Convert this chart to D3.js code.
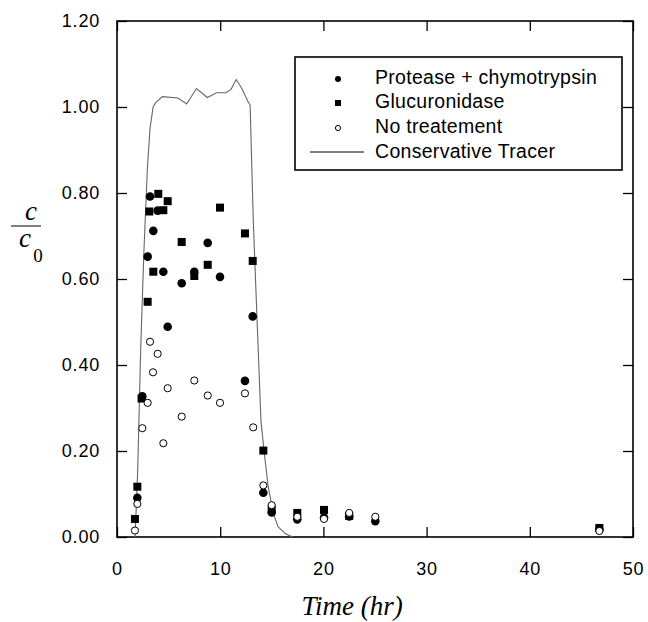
<!DOCTYPE html>
<html>
<head>
<meta charset="utf-8">
<script src="https://cdn.jsdelivr.net/npm/d3@7"></script>
<style>
    body { margin: 0; background: #fff; }
    .tick text { font-family: "Liberation Sans", Arial, sans-serif; font-size: 18px; letter-spacing: 0.8px; fill: #000; }
    .legend text { font-family: "Liberation Sans", Arial, sans-serif; font-size: 19.5px; letter-spacing: 0.3px; }
</style>
</head>
<body>
<div id="canvas"></div>
<script>
// Protease + chymotrypsin (filled circles)
const proteaseTime = [1.97, 2.45, 2.97, 3.2, 3.52, 3.94, 4.49, 4.91, 6.27, 7.49, 8.79, 9.98, 12.4, 13.15, 14.18, 14.99, 17.47, 20.06, 22.5, 25.03, 46.74];
const proteaseValue = [0.091, 0.327, 0.652, 0.792, 0.712, 0.759, 0.617, 0.489, 0.590, 0.617, 0.684, 0.605, 0.363, 0.513, 0.103, 0.057, 0.041, 0.045, 0.048, 0.037, 0.018];

// Glucuronidase (filled squares)
const glucTime = [1.74, 1.97, 2.38, 2.97, 3.13, 3.52, 4.0, 4.49, 4.91, 6.27, 7.49, 8.79, 9.98, 12.4, 13.15, 14.18, 14.99, 17.47, 20.06, 22.5, 46.74];
const glucValue = [0.042, 0.117, 0.322, 0.547, 0.757, 0.617, 0.798, 0.760, 0.781, 0.686, 0.607, 0.633, 0.766, 0.706, 0.642, 0.201, 0.065, 0.056, 0.063, 0.049, 0.021];

// No treatement (open circles)
const noTreatTime = [1.74, 1.97, 2.45, 2.97, 3.2, 3.49, 3.94, 4.49, 4.91, 6.27, 7.49, 8.79, 9.98, 12.4, 13.2, 14.18, 14.99, 17.47, 20.06, 22.5, 25.03, 46.74];
const noTreatValue = [0.015, 0.077, 0.253, 0.312, 0.454, 0.383, 0.426, 0.218, 0.346, 0.280, 0.364, 0.329, 0.312, 0.334, 0.255, 0.120, 0.074, 0.047, 0.042, 0.056, 0.047, 0.014];

// Conservative tracer (line)
const tracerTime = [1.75, 2.0, 2.3, 2.6, 2.95, 3.2, 3.5, 3.75, 4.4, 5.9, 6.75, 7.7, 8.75, 9.65, 10.55, 11.05, 11.55, 12.1, 12.7, 12.9, 13.2, 13.5, 13.95, 14.25, 14.65, 15.15, 15.6, 16.3, 17.0];
const tracerValue = [0, 0.15, 0.44, 0.66, 0.86, 0.95, 1.0, 1.01, 1.024, 1.021, 1.007, 1.043, 1.022, 1.033, 1.033, 1.041, 1.064, 1.043, 1.012, 1.005, 0.74, 0.55, 0.27, 0.2, 0.117, 0.055, 0.024, 0.008, 0];

const xTicks = [0, 10, 20, 30, 40, 50];
const yTicks = [0, 0.2, 0.4, 0.6, 0.8, 1.0, 1.2];
const legendLabels = ["Protease + chymotrypsin", "Glucuronidase", "No treatement", "Conservative Tracer"];

const zip = (ts, vs) => ts.map((t, i) => ({ t: t, v: vs[i] }));

function drawChart() {
    const width = 648;
    const height = 622;
    const left = 117, right = 633, top = 21, bottom = 537;

    const svg = d3.select("#canvas")
        .append("svg")
        .attr("width", width)
        .attr("height", height);

    const x = d3.scaleLinear().domain([0, 50]).range([left, right]);
    const y = d3.scaleLinear().domain([0, 1.2]).range([bottom, top]);

    // axes with inward ticks on all four sides
    svg.append("g")
        .attr("class", "axis-left")
        .attr("transform", "translate(" + left + ",0)")
        .call(d3.axisLeft(y).tickValues(yTicks).tickSize(-10).tickPadding(17).tickFormat(d3.format(".2f")))
        .call(g => g.select(".domain").remove());
    svg.append("g")
        .attr("transform", "translate(" + right + ",0)")
        .call(d3.axisRight(y).tickValues(yTicks).tickSize(-10).tickFormat(""))
        .call(g => g.select(".domain").remove());
    svg.append("g")
        .attr("class", "axis-bottom")
        .attr("transform", "translate(0," + bottom + ")")
        .call(d3.axisBottom(x).tickValues(xTicks).tickSize(-10).tickPadding(25).tickFormat(d3.format("d")))
        .call(g => g.select(".domain").remove());
    svg.append("g")
        .attr("transform", "translate(0," + top + ")")
        .call(d3.axisTop(x).tickValues(xTicks).tickSize(-10).tickFormat(""))
        .call(g => g.select(".domain").remove());
    svg.selectAll(".tick line").attr("stroke", "#000").attr("stroke-width", 1.3);

    svg.append("rect")
        .attr("x", left)
        .attr("y", top)
        .attr("width", right - left)
        .attr("height", bottom - top)
        .attr("fill", "none")
        .attr("stroke", "#000")
        .attr("stroke-width", 1.6);

    // tracer line
    svg.append("path")
        .datum(zip(tracerTime, tracerValue))
        .attr("fill", "none")
        .attr("stroke", "#666")
        .attr("stroke-width", 1.1)
        .attr("d", d3.line()
            .x(function (d) { return x(d.t); })
            .y(function (d) { return y(d.v); })
        );

    svg.append("g")
        .selectAll("rect")
        .data(zip(glucTime, glucValue))
        .enter()
        .append("rect")
        .attr("x", d => x(d.t) - 4)
        .attr("y", d => y(d.v) - 4)
        .attr("width", 8)
        .attr("height", 8)
        .attr("fill", "#000");

    svg.append("g")
        .selectAll("circle")
        .data(zip(proteaseTime, proteaseValue))
        .enter()
        .append("circle")
        .attr("cx", d => x(d.t))
        .attr("cy", d => y(d.v))
        .attr("r", 4.3)
        .attr("fill", "#000");

    svg.append("g")
        .selectAll("circle")
        .data(zip(noTreatTime, noTreatValue))
        .enter()
        .append("circle")
        .attr("cx", d => x(d.t))
        .attr("cy", d => y(d.v))
        .attr("r", 3.6)
        .attr("fill", "#fff")
        .attr("stroke", "#000")
        .attr("stroke-width", 1);

    // legend
    const legend = svg.append("g").attr("class", "legend");
    legend.append("rect")
        .attr("x", 295)
        .attr("y", 57)
        .attr("width", 327)
        .attr("height", 113)
        .attr("fill", "#fff")
        .attr("stroke", "#000")
        .attr("stroke-width", 1.6);

    const rowY = [78, 102, 127, 152];
    legend.selectAll("text")
        .data(legendLabels)
        .enter()
        .append("text")
        .attr("x", 375)
        .attr("y", (d, i) => rowY[i] + 6)
        .text(d => d);

    legend.append("circle").attr("cx", 338).attr("cy", rowY[0] + 1).attr("r", 3).attr("fill", "#000");
    legend.append("rect").attr("x", 335).attr("y", rowY[1] - 2).attr("width", 6).attr("height", 6).attr("fill", "#000");
    legend.append("circle").attr("cx", 338).attr("cy", rowY[2] + 1).attr("r", 2.6).attr("fill", "#fff").attr("stroke", "#000");
    legend.append("line").attr("x1", 310).attr("x2", 364).attr("y1", rowY[3]).attr("y2", rowY[3])
        .attr("stroke", "#000").attr("stroke-width", 1);

    // axis titles
    svg.append("text")
        .attr("x", 352)
        .attr("y", 615)
        .attr("text-anchor", "middle")
        .style("font-family", "'Liberation Serif', 'Times New Roman', serif")
        .style("font-style", "italic")
        .style("font-size", "27px")
        .text("Time (hr)");

    const yTitle = svg.append("g")
        .style("font-family", "'Liberation Serif', 'Times New Roman', serif")
        .style("font-size", "27px");
    yTitle.append("text")
        .attr("x", 31)
        .attr("y", 220)
        .attr("text-anchor", "middle")
        .style("font-style", "italic")
        .text("c");
    yTitle.append("line")
        .attr("x1", 11).attr("x2", 41)
        .attr("y1", 226).attr("y2", 226)
        .attr("stroke", "#000").attr("stroke-width", 1);
    yTitle.append("text")
        .attr("x", 25)
        .attr("y", 247)
        .attr("text-anchor", "middle")
        .style("font-style", "italic")
        .text("c");
    yTitle.append("text")
        .attr("x", 38)
        .attr("y", 262)
        .attr("text-anchor", "middle")
        .style("font-size", "19px")
        .text("0");
}

drawChart();
</script>
</body>
</html>
